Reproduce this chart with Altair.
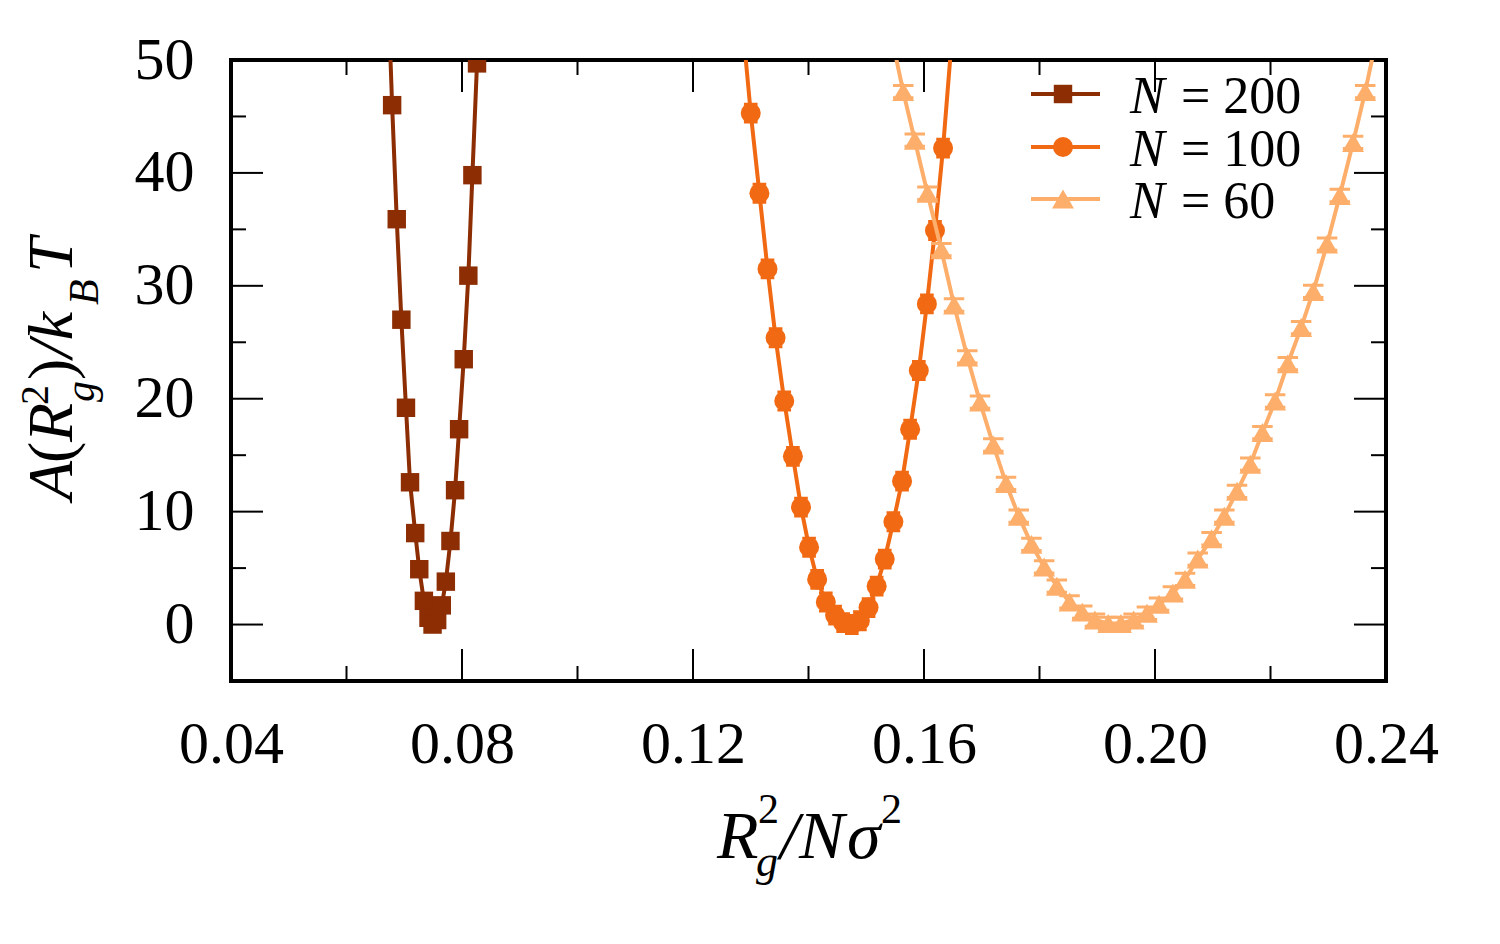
import altair as alt
import pandas as pd

# ---------------- data ----------------
series_names = ["N = 200", "N = 100", "N = 60"]
series_colors = ["#8c2d04", "#f16913", "#fdae6b"]
series_shapes = ["square", "circle", "triangle-up"]
series_sizes = [340, 400, 480]

x_200 = [0.0671, 0.0679, 0.0687, 0.0695, 0.0703, 0.0710, 0.0719, 0.0726, 0.0734,
         0.0742, 0.0749, 0.0757, 0.0765, 0.0772, 0.0780, 0.0788, 0.0795, 0.0803,
         0.0811, 0.0818, 0.0826]
y_200 = [57.5, 46.0, 35.9, 27.0, 19.2, 12.6, 8.1, 4.9, 2.1,
         0.6, 0.0, 0.4, 1.7, 3.8, 7.4, 11.9, 17.3, 23.5,
         30.9, 39.8, 49.7]

x_100 = [0.1286, 0.1300, 0.1315, 0.1329, 0.1343, 0.1358, 0.1373, 0.1387, 0.1401,
         0.1415, 0.1430, 0.1446, 0.1460, 0.1475, 0.1489, 0.1504, 0.1518, 0.1532,
         0.1547, 0.1562, 0.1576, 0.1591, 0.1605, 0.1619, 0.1633, 0.1648]
y_100 = [53.0, 45.3, 38.2, 31.5, 25.4, 19.8, 14.9, 10.4, 6.85,
         4.0, 2.0, 0.84, 0.17, 0.0, 0.34, 1.5, 3.4, 5.8,
         9.1, 12.7, 17.3, 22.5, 28.4, 34.9, 42.2, 51.8]

x_60 = [0.1542, 0.1564, 0.1584, 0.1606, 0.1630, 0.1652, 0.1675, 0.1697, 0.1720,
        0.1742, 0.1764, 0.1786, 0.1808, 0.1830, 0.1852, 0.1874, 0.1896, 0.1919,
        0.1941, 0.1963, 0.1986, 0.2007, 0.2031, 0.2052, 0.2074, 0.2098, 0.2120,
        0.2142, 0.2165, 0.2186, 0.2208, 0.2230, 0.2253, 0.2274, 0.2298, 0.2320,
        0.2343, 0.2364, 0.2386]
y_60 = [52.5, 47.2, 42.9, 38.2, 33.2, 28.3, 23.7, 19.7, 15.9,
        12.5, 9.6, 7.1, 5.1, 3.4, 2.0, 1.1, 0.4, 0.1,
        0.1, 0.4, 1.0, 1.8, 2.8, 4.0, 5.8, 7.6, 9.6,
        11.8, 14.2, 17.0, 19.8, 23.1, 26.3, 29.5, 33.7, 38.0,
        42.7, 47.2, 52.5]

x_ticks_major = [0.04, 0.08, 0.12, 0.16, 0.20, 0.24]
x_ticks_minor = [0.06, 0.10, 0.14, 0.18, 0.22]
y_ticks_major = [0, 10, 20, 30, 40]
y_ticks_minor = [5, 15, 25, 35, 45]
y_tick_labels = [0, 10, 20, 30, 40, 50]

# ---------------- layout ----------------
W, H = 1155, 621
PAD = {"left": 231, "top": 60, "right": 114, "bottom": 263}
FONT = "Liberation Serif"
MAJ, MIN = 32, 15

xs = alt.Scale(domain=[0.04, 0.24], nice=False, zero=False)
ys = alt.Scale(domain=[-5, 50], nice=False, zero=False)

frames = []
for name, xv, yv in zip(series_names, [x_200, x_100, x_60], [y_200, y_100, y_60]):
    frames.append(pd.DataFrame({"x": xv, "y": yv, "N": name}))
data = pd.concat(frames, ignore_index=True)

xaxis = alt.Axis(values=x_ticks_major, format=".2f", labelFont=FONT, labelFontSize=60,
                 labelColor="black", labelPadding=34, ticks=False, tickSize=0,
                 domain=False, grid=False, title=None, labelFlush=False,
                 labelOverlap=False)
yaxis = alt.Axis(values=y_tick_labels, format="d", labelFont=FONT, labelFontSize=60,
                 labelColor="black", labelPadding=37, ticks=False, tickSize=0,
                 domain=False, grid=False, title=None, labelOverlap=False)


def X(field):
    return alt.X(field, scale=xs, axis=xaxis)


def Y(field):
    return alt.Y(field, scale=ys, axis=yaxis)


CAPS = {
    "N = 100": ("M-0.65,-0.85H0.65M-0.65,0.85H0.65", 441),
    "N = 60": ("M-1,-0.6H1M-1,0.6H1", 420),
}

layers = []
for name, col, shp, sz in zip(series_names, series_colors, series_shapes, series_sizes):
    base = alt.Chart(data).transform_filter(alt.datum.N == name)
    line = base.mark_line(color=col, strokeWidth=4, clip=True).encode(
        x=X("x:Q"), y=Y("y:Q"))
    pts = base.mark_point(shape=shp, filled=True, color=col, size=sz, opacity=1,
                          clip=True).encode(x=X("x:Q"), y=Y("y:Q"))
    layers += [line, pts]
    if name in CAPS:
        path, csz = CAPS[name]
        caps = base.mark_point(shape=path, filled=False, color=col,
                               strokeWidth=3, size=csz, opacity=1, clip=True).encode(
            x=X("x:Q"), y=Y("y:Q"))
        layers.append(caps)


# ---------------- inward ticks on all four sides ----------------
def xticks(vals, length):
    df = pd.DataFrame({"x": vals})
    bottom = alt.Chart(df).mark_rule(color="black", strokeWidth=2).encode(
        x=X("x:Q"), y=alt.value(H), y2=alt.value(H - length))
    top = alt.Chart(df).mark_rule(color="black", strokeWidth=2).encode(
        x=X("x:Q"), y=alt.value(0), y2=alt.value(length))
    return [bottom, top]


def yticks(vals, length):
    df = pd.DataFrame({"y": vals})
    left = alt.Chart(df).mark_rule(color="black", strokeWidth=2).encode(
        y=Y("y:Q"), x=alt.value(0), x2=alt.value(length))
    right = alt.Chart(df).mark_rule(color="black", strokeWidth=2).encode(
        y=Y("y:Q"), x=alt.value(W), x2=alt.value(W - length))
    return [left, right]


layers += xticks(x_ticks_major, MAJ) + xticks(x_ticks_minor, MIN)
layers += yticks(y_ticks_major, MAJ) + yticks(y_ticks_minor, MIN)


# ---------------- text pieces (titles with sub/superscripts, legend) ----------------
def txt(s, x, y, size, italic=True, angle=0):
    return alt.Chart(pd.DataFrame({"t": [s]})).mark_text(
        font=FONT, fontSize=size, fontStyle="italic" if italic else "normal",
        align="left", baseline="alphabetic", angle=angle, color="black"
    ).encode(x=alt.value(x), y=alt.value(y), text="t:N")


# x title: R_g^2 / N sigma^2
layers += [
    txt("R", 486, 798, 68),
    txt("2", 527, 763, 42, italic=False),
    txt("g", 525, 816, 44),
    txt("/N", 549, 798, 68),
    txt("σ", 616, 798, 68),
    txt("2", 650, 763, 42, italic=False),
]

# y title: A(R_g^2)/k_B T  (rotated)
layers += [
    txt("A", -159, 440, 64, angle=270),
    txt("(", -159, 403, 64, italic=False, angle=270),
    txt("R", -159, 382, 64, angle=270),
    txt("2", -183, 345, 40, italic=False, angle=270),
    txt("g", -137, 342, 42, angle=270),
    txt(")", -159, 320, 64, italic=False, angle=270),
    txt("/k", -159, 298, 64, angle=270),
    txt("B", -133, 245, 42, angle=270),
    txt("T", -159, 213, 64, angle=270),
]

# legend
legend_rows = [34, 87, 139]
legend_nums = ["= 200", "= 100", "= 60"]
for yc, col, shp, sz, num in zip(legend_rows, series_colors, series_shapes,
                                 series_sizes, legend_nums):
    one = pd.DataFrame({"a": [0]})
    layers.append(alt.Chart(one).mark_rule(color=col, strokeWidth=4).encode(
        x=alt.value(800), x2=alt.value(869), y=alt.value(yc)))
    layers.append(alt.Chart(one).mark_point(shape=shp, filled=True, color=col, size=sz,
                                            opacity=1).encode(
        x=alt.value(832), y=alt.value(yc)))
    layers.append(txt("N", 899, yc + 19, 52))
    layers.append(txt(num, 950, yc + 19, 52, italic=False))

chart = alt.layer(*layers).properties(
    width=W, height=H, padding=PAD,
    autosize=alt.AutoSizeParams(type="none"),
    background="white",
).configure_view(stroke="black", strokeWidth=4)

chart.save("out.html", embed_options={"renderer": "svg", "actions": False})
